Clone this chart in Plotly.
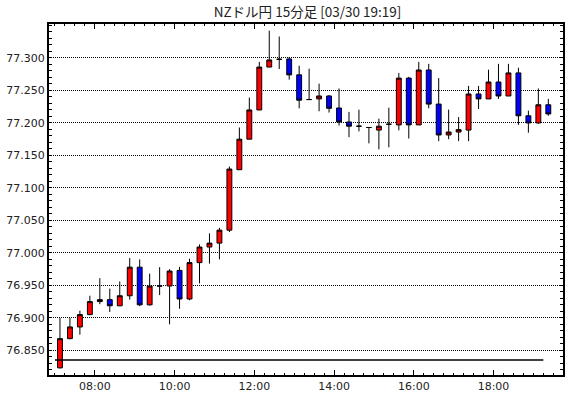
import plotly.graph_objects as go
import pandas as pd

# ---- data ----
times = pd.date_range("2021-03-30 07:00", periods=50, freq="15min")
opens = [76.823, 76.868, 76.886, 76.905, 76.925, 76.928, 76.9185, 76.934, 76.978, 76.920,
         76.949, 76.949, 76.973, 76.929, 76.985, 77.009, 77.015, 77.035, 77.128, 77.175,
         77.220, 77.286, 77.298, 77.2985, 77.274, 77.236, 77.237, 77.2415, 77.223, 77.2015,
         77.195, 77.193, 77.189, 77.198, 77.197, 77.269, 77.197, 77.2815, 77.229, 77.1815,
         77.186, 77.189, 77.2446, 77.237, 77.263, 77.2415, 77.277, 77.211, 77.200, 77.228]
highs = [76.900, 76.900, 76.911, 76.934, 76.961, 76.945, 76.956, 76.992, 76.990, 76.968,
         76.978, 76.975, 76.9785, 76.991, 77.013, 77.030, 77.0385, 77.133, 77.193, 77.239,
         77.294, 77.342, 77.333, 77.3015, 77.288, 77.2835, 77.2605, 77.243, 77.253, 77.217,
         77.2205, 77.193, 77.2066, 77.2235, 77.277, 77.271, 77.294, 77.291, 77.269, 77.2205,
         77.209, 77.257, 77.257, 77.282, 77.291, 77.291, 77.285, 77.219, 77.253, 77.237]
lows = [76.822, 76.867, 76.874, 76.904, 76.921, 76.909, 76.918, 76.928, 76.918, 76.919,
        76.935, 76.890, 76.914, 76.927, 76.953, 76.9835, 76.990, 77.032, 77.128, 77.175,
        77.220, 77.286, 77.283, 77.2666, 77.2225, 77.236, 77.218, 77.216, 77.196, 77.178,
        77.187, 77.1686, 77.1594, 77.1625, 77.1886, 77.176, 77.197, 77.2225, 77.172, 77.175,
        77.172, 77.172, 77.2215, 77.237, 77.237, 77.2415, 77.197, 77.185, 77.1985, 77.211]
closes = [76.868, 76.886, 76.905, 76.925, 76.928, 76.9185, 76.934, 76.978, 76.920, 76.949,
          76.949, 76.972, 76.929, 76.985, 77.009, 77.015, 77.035, 77.129, 77.175, 77.220,
          77.286, 77.297, 77.298, 77.274, 77.235, 77.236, 77.2415, 77.2225, 77.2015, 77.195,
          77.195, 77.193, 77.195, 77.198, 77.269, 77.197, 77.2815, 77.229, 77.1815, 77.186,
          77.1897, 77.2446, 77.237, 77.263, 77.2415, 77.277, 77.211, 77.200, 77.228, 77.2138]
ref_line = 76.835

y_ticks = [76.85, 76.90, 76.95, 77.00, 77.05, 77.10, 77.15, 77.20, 77.25, 77.30]
title_text = "NZドル円 15分足 [03/30 19:19]"

fig = go.Figure()
fig.add_trace(go.Candlestick(
    x=times, open=opens, high=highs, low=lows, close=closes,
    xperiod=15 * 60 * 1000, xperiodalignment="middle",
    increasing=dict(fillcolor="#ff0000", line=dict(color="black", width=1)),
    decreasing=dict(fillcolor="#0000ff", line=dict(color="black", width=1)),
    whiskerwidth=0, hoverinfo="skip", showlegend=False,
))

fig.add_shape(type="line", xref="x", yref="y",
              x0=times[0], x1=times[-1], y0=ref_line, y1=ref_line,
              line=dict(color="black", width=1.5))

fig.update_layout(
    width=570, height=398,
    margin=dict(l=49, r=5, t=24, b=23),
    paper_bgcolor="white", plot_bgcolor="white",
    title=dict(text=title_text, x=0.5395, xanchor="center", y=0.97, yanchor="middle",
               font=dict(family="Noto Sans CJK JP", size=13.5, color="#222")),
    font=dict(family="DejaVu Sans", size=11, color="#222"),
    boxgap=0.3,
)
fig.update_xaxes(
    type="date",
    range=["2021-03-30 06:51", "2021-03-30 19:44:36"],
    rangeslider=dict(visible=False),
    tickformat="%H:%M", dtick=2 * 3600 * 1000, tick0="2021-03-30 08:00",
    ticks="inside", ticklen=5, tickwidth=1, tickcolor="black",
    minor=dict(ticks="inside", dtick=15 * 60 * 1000, ticklen=2, tickcolor="black", showgrid=False),
    showgrid=False, showline=True, linecolor="black", linewidth=2, mirror="allticks",
    zeroline=False, fixedrange=True,
    tickfont=dict(family="DejaVu Sans", size=11, color="#222"),
)
fig.update_yaxes(
    range=[76.812, 77.3523],
    tickvals=y_ticks, ticktext=[f"{v:.3f}" for v in y_ticks],
    ticks="inside", ticklen=3, tickwidth=1, tickcolor="black",
    minor=dict(ticks="inside", dtick=0.01, tick0=76.85, ticklen=3, tickcolor="black", showgrid=False),
    showgrid=True, gridcolor="black", griddash="1px,1px", gridwidth=1,
    showline=True, linecolor="black", linewidth=2, mirror="allticks",
    zeroline=False, fixedrange=True,
    tickfont=dict(family="DejaVu Sans", size=11, color="#222"),
)

fig.write_html("out.html")
